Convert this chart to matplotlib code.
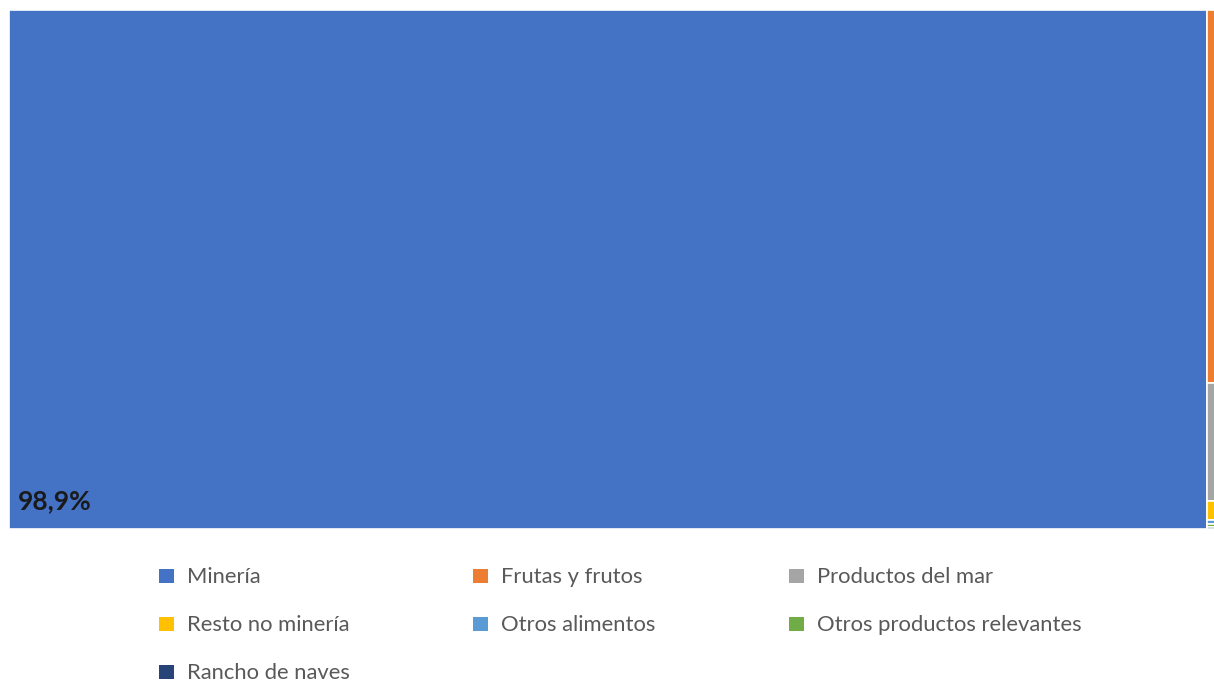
import matplotlib.pyplot as plt
from matplotlib.patches import Rectangle

categorias = ['Minería', 'Frutas y frutos', 'Productos del mar', 'Resto no minería',
              'Otros alimentos', 'Otros productos relevantes', 'Rancho de naves']
valores = [98.9, 0.79, 0.25, 0.04, 0.01, 0.005, 0.005]
colores = ['#4472C4', '#ED7D31', '#A5A5A5', '#FFC000', '#5B9BD5', '#70AD47', '#264478']
etiqueta = '98,9%'

W, H = 1214, 682
fig = plt.figure(figsize=(W / 100, H / 100), dpi=100)
ax = fig.add_axes([9 / W, 1 - 529 / H, 1 - 9 / W, 519 / H])

# primer bloque ocupa todo el alto, el resto se apila en una columna
total = sum(valores)
ax.add_patch(Rectangle((0, 0), valores[0], 1, facecolor=colores[0],
                       edgecolor='white', linewidth=1.2))
resto = total - valores[0]
y = 1.0
for v, c in zip(valores[1:], colores[1:]):
    h = v / resto
    ax.add_patch(Rectangle((valores[0], y - h), resto, h, facecolor=c,
                           edgecolor='white', linewidth=1.2))
    y -= h

ax.text(0.72, 0.03, etiqueta, fontsize=19, fontweight='bold', color='#1a1a1a',
        family='Lato', ha='left', va='bottom')

ax.set_xlim(0, 99.48)
ax.set_ylim(0, 1)
ax.axis('off')

# leyenda en 3 columnas, por filas
col_x = [159, 473, 789]
fila_y = [576, 624, 672]
for i, (cat, c) in enumerate(zip(categorias, colores)):
    px = col_x[i % 3]
    py = fila_y[i // 3]
    fig.patches.append(Rectangle((px / W, 1 - (py + 7) / H), 15 / W, 14 / H,
                                 facecolor=c, edgecolor='none',
                                 transform=fig.transFigure, figure=fig))
    fig.text((px + 28) / W, 1 - (py + 1) / H, cat, fontsize=15.8, color='#595959',
             family='Lato', ha='left', va='center')

fig.savefig('out.png', dpi=100, facecolor='white')
